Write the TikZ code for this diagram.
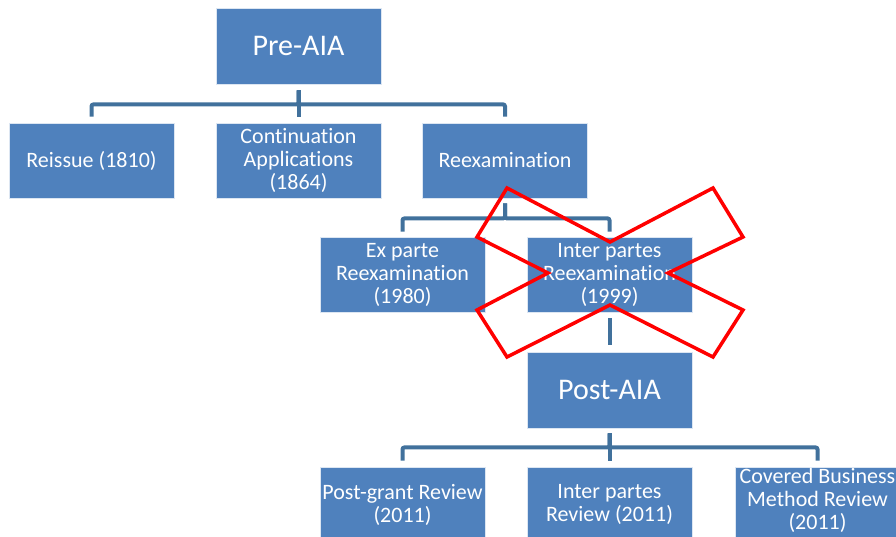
\documentclass[tikz,border=0pt]{standalone}
\usepackage{fontspec}
\setmainfont{Carlito}[Ligatures=NoCommon]
\usepackage{tikz}
\definecolor{boxblue}{HTML}{4F81BD}
\definecolor{linkblue}{HTML}{41719C}
\definecolor{crossred}{HTML}{FF0000}

\begin{document}
\begin{tikzpicture}[x=1pt,y=-1pt,
		box/.style={rectangle,fill=boxblue,draw=white!80!boxblue,line width=0.8pt,text=white,align=center,inner sep=0pt,
			minimum width=165pt,minimum height=75pt,font=\fontsize{22}{23}\selectfont},
		headbox/.style={box,minimum height=76pt,font=\fontsize{30}{32}\selectfont},
		conn/.style={draw=linkblue,line width=4pt,rounded corners=2pt},
		cross/.style={draw=crossred,line width=3.5pt,line join=miter}]
		\useasboundingbox (0,0) rectangle (896,537);
		
		\node (pre) [headbox] at (298.5,46) {Pre-AIA};
		
		\node (reissue) [box] at (91.5,160.5) {Reissue (1810)};
		\node (cont) [box] at (298.5,160.5) {Continuation\\Applications\\(1864)};
		\node (reex) [box] at (505,160.5) {Reexamination};
		
		\node (expt) [box] at (402.5,274.5) {Ex parte\\Reexamination\\(1980)};
		\node (ipr) [box] at (609.5,274.5) {Inter partes\\Reexamination\\(1999)};
		
		\node (post) [headbox] at (609.5,390) {Post-AIA};
		
		\node (pgr) [box] at (402.5,504.5) {Post-grant Review\\(2011)};
		\node (iprev) [box] at (609.5,504.5) {Inter partes\\Review (2011)};
		\node (cbm) [box,text depth=11pt] at (817.5,504.5) {Covered Business\\Method Review\\(2011)};
		
		% connectors
		\draw[conn,shorten <=6pt,shorten >=6pt] (pre.south) -- ++(0,20) -| (reissue.north);
		\draw[conn,shorten <=6pt,shorten >=6pt] (pre.south) -- (cont.north);
		\draw[conn,shorten <=6pt,shorten >=6pt] (pre.south) -- ++(0,20) -| (reex.north);
		
		\draw[conn,shorten <=5pt,shorten >=5pt] (reex.south) -- ++(0,20) -| (expt.north);
		\draw[conn,shorten <=5pt,shorten >=5pt] (reex.south) -- ++(0,20) -| (ipr.north);
		
		\draw[conn,shorten <=6pt,shorten >=7pt] (ipr.south) -- (post.north);
		
		\draw[conn,shorten <=5pt,shorten >=6pt] (post.south) -- ++(0,19) -| (pgr.north);
		\draw[conn,shorten <=5pt,shorten >=6pt] (post.south) -- (iprev.north);
		\draw[conn,shorten <=5pt,shorten >=6pt] (post.south) -- ++(0,19) -| (cbm.north);
		
		% the cross over inter partes reexamination
		\draw[cross] (507,188) -- (610,242) -- (713,188) -- (743,237) -- (668,273) -- (743,310)
			-- (713,357) -- (610,305) -- (507,357) -- (477,310) -- (548,273) -- (477,237) -- cycle;
	\end{tikzpicture}
\end{document}
